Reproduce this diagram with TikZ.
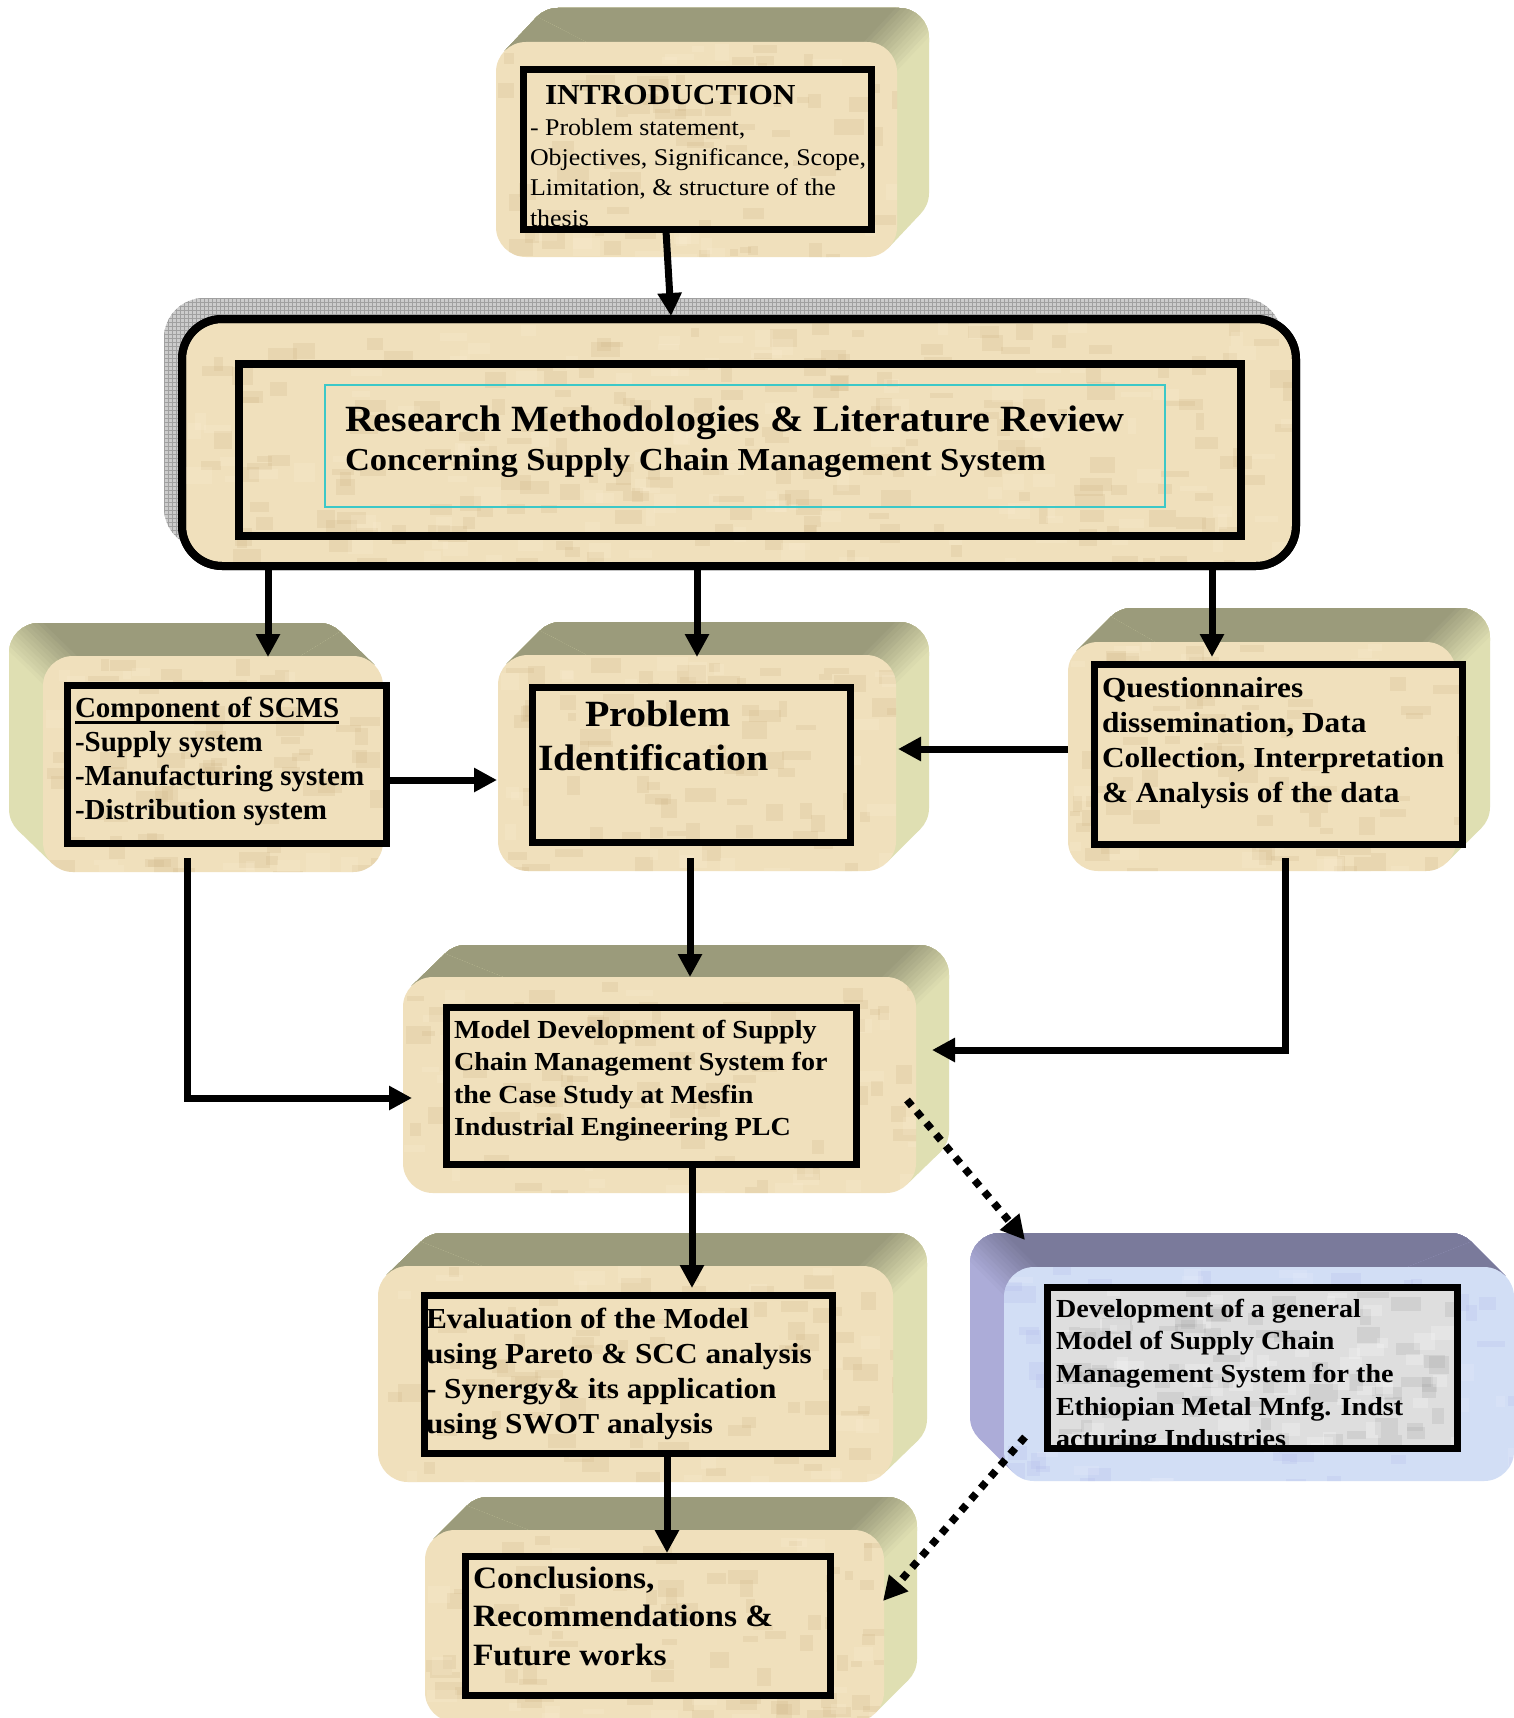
\documentclass[tikz,border=0pt]{standalone}
\usepackage{fontspec}
\setmainfont{Liberation Serif}[FakeStretch=1.08]
\newfontfamily\tnr{Liberation Serif}
\usetikzlibrary{arrows.meta}
\definecolor{tanTop}{RGB}{155,155,123}
\definecolor{tanSide}{RGB}{223,223,178}
\definecolor{tanFace}{RGB}{240,224,188}
\definecolor{tanDark}{RGB}{205,180,135}
\definecolor{tanLight}{RGB}{252,240,212}
\definecolor{blueTop}{RGB}{122,122,155}
\definecolor{blueSide}{RGB}{172,172,216}
\definecolor{blueFace}{RGB}{210,222,245}
\definecolor{blueDark}{RGB}{175,185,235}
\definecolor{blueLight}{RGB}{235,240,252}
\definecolor{marble}{RGB}{222,222,222}
\definecolor{marbleDark}{RGB}{160,160,160}
\definecolor{cyanline}{RGB}{60,200,200}
\definecolor{gridfill}{RGB}{204,204,204}
\definecolor{gridline}{RGB}{160,160,160}
\newcommand\boxtext[1]{\begin{tabular}[t]{@{}l@{}}#1\end{tabular}}
\newcommand\myul[1]{\setbox0=\hbox{#1}\rlap{\rule[-6.5pt]{\wd0}{2.2pt}}\box0}
\newcommand\mottle[7]{% x1 y1 x2 y2 colour count radius
  \begin{scope}
    \clip[rounded corners=#7] (#1,#2) rectangle (#3,#4);
    \foreach \mi in {1,...,#6}{%
      \pgfmathsetmacro\mx{#1+rnd*(#3-#1)}%
      \pgfmathsetmacro\my{#2+rnd*(#4-#2)}%
      \pgfmathsetmacro\mw{8+rnd*24}%
      \pgfmathsetmacro\mh{5+rnd*14}%
      \fill[#5, opacity=0.22] (\mx,\my) rectangle ++(\mw,\mh);
    }%
  \end{scope}
}
\newcommand\slabfill[1]{%
  \fill[#1Side] ({\scx-2000},{\scy-2000}) rectangle ({\scx+2000},{\scy+2000});
  \foreach \si in {0,...,12}{%
    \pgfmathsetmacro\slt{24-4*\si}%
    \pgfmathtruncatemacro\slmix{round(100*\si/12)}%
    \pgfmathsetmacro\sPx{\scx+(\slt)*(\snx)+700*(\sux)}%
    \pgfmathsetmacro\sPy{\scy+(\slt)*(\sny)+700*(\suy)}%
    \pgfmathsetmacro\sQx{\scx+(\slt)*(\snx)-700*(\sux)}%
    \pgfmathsetmacro\sQy{\scy+(\slt)*(\sny)-700*(\suy)}%
    \pgfmathsetmacro\sRx{\sQx-1200*(\snx)}%
    \pgfmathsetmacro\sRy{\sQy-1200*(\sny)}%
    \pgfmathsetmacro\sSx{\sPx-1200*(\snx)}%
    \pgfmathsetmacro\sSy{\sPy-1200*(\sny)}%
    \fill[#1Top!\slmix!#1Side] (\sPx,\sPy) -- (\sQx,\sQy) -- (\sRx,\sRy) -- (\sSx,\sSy) -- cycle;
  }%
}
\newcommand\slab[7]{%
  \pgfmathsetmacro\sxa{#1}%
  \pgfmathsetmacro\sya{#2}%
  \pgfmathsetmacro\sxb{#3}%
  \pgfmathsetmacro\syb{#4}%
  \pgfmathsetmacro\sdx{#5}%
  \pgfmathsetmacro\sdy{#6}%
  \pgfmathsetmacro\slen{veclen(\sdx,\sdy)}%
  \pgfmathsetmacro\sux{\sdx/\slen}%
  \pgfmathsetmacro\suy{\sdy/\slen}%
  \pgfmathsetmacro\sbxa{\sxa+(\sdx)}%
  \pgfmathsetmacro\sbya{\sya+(\sdy)}%
  \pgfmathsetmacro\sbxb{\sxb+(\sdx)}%
  \pgfmathsetmacro\sbyb{\syb+(\sdy)}%
  \ifdim\sdx pt>0pt
    \pgfmathsetmacro\snx{-(\suy)}\pgfmathsetmacro\sny{\sux}%
    \pgfmathsetmacro\scx{\sxb-8.8}\pgfmathsetmacro\scy{\sya+8.8}%
    \pgfmathsetmacro\sAx{\sxa+8.8}\pgfmathsetmacro\sAy{\sya+8.8}%
    \pgfmathsetmacro\sDx{\sxb-8.8}\pgfmathsetmacro\sDy{\syb-8.8}%
  \else
    \pgfmathsetmacro\snx{\suy}\pgfmathsetmacro\sny{-(\sux)}%
    \pgfmathsetmacro\scx{\sxa+8.8}\pgfmathsetmacro\scy{\sya+8.8}%
    \pgfmathsetmacro\sAx{\sxb-8.8}\pgfmathsetmacro\sAy{\sya+8.8}%
    \pgfmathsetmacro\sDx{\sxa+8.8}\pgfmathsetmacro\sDy{\syb-8.8}%
  \fi
  \pgfmathsetmacro\sBx{\sAx+(\sdx)}\pgfmathsetmacro\sBy{\sAy+(\sdy)}%
  \pgfmathsetmacro\sCx{\sDx+(\sdx)}\pgfmathsetmacro\sCy{\sDy+(\sdy)}%
  \begin{scope}
    \clip[rounded corners=30pt] (\sbxa,\sbya) rectangle (\sbxb,\sbyb);
    \slabfill{#7}
  \end{scope}
  \begin{scope}
    \clip (\sAx,\sAy) -- (\sBx,\sBy) -- (\sCx,\sCy) -- (\sDx,\sDy) -- cycle;
    \slabfill{#7}
  \end{scope}
  \fill[#7Face, rounded corners=30pt] (\sxa,\sya) rectangle (\sxb,\syb);
  \mottle{#1}{#2}{#3}{#4}{#7Dark}{70}{30pt}
  \mottle{#1}{#2}{#3}{#4}{#7Light}{50}{30pt}
}
\newcommand\innerbox[6]{%
  \node[fill=#6, inner sep=0pt, outer sep=0pt, minimum width={#4-#2}, minimum height={#5-#3}] (#1) at ({(#2+#4)/2},{(#3+#5)/2}) {};
}
\tikzset{
  frame/.style={draw=black, line width=7pt},
  conn/.style={line width=7pt, -{Triangle[length=23pt,width=23pt]}},
  dotconn/.style={line width=7.5pt, dash pattern=on 7.5pt off 7.5pt, -{Triangle[length=24pt,width=24pt]}},
  txt/.style={anchor=base west, inner sep=0pt, outer sep=0pt},
}
\begin{document}
\begin{tikzpicture}[x=1pt,y={(0pt,-1pt)}]
\pgfmathsetseed{7}
\useasboundingbox (0,0) rectangle (1514,1718);
\fill[white] (0,0) rectangle (1514,1718);

% ---------- Introduction ----------
\slab{496}{42}{897}{257}{32}{-34}{tan}
\innerbox{intro}{523}{70}{871}{229}{tanFace}
\mottle{523}{70}{871}{229}{tanDark}{40}{0pt}
\begin{scope}
  \clip (intro.north west) rectangle (intro.south east);
  \node[txt, font=\fontsize{29}{30}\selectfont\bfseries] (introT) at (545,105) {INTRODUCTION};
  \node[txt, font=\fontsize{24}{30.3}\selectfont] (introB) at (530,135.3) {\boxtext{- Problem statement,\\Objectives, Significance, Scope,\\Limitation, \& structure of the\\thesis}};
\end{scope}
\draw[frame] (intro.north west) rectangle (intro.south east);

% ---------- Research methodologies ----------
\fill[gridfill, rounded corners=40pt] (164,298) rectangle (1282,548);
\begin{scope}
  \clip[rounded corners=40pt] (164,298) rectangle (1282,548);
  \foreach \gx in {164,168,...,1284} \draw[gridline, line width=0.6pt] (\gx,296) -- (\gx,550);
  \foreach \gy in {298,302,...,550} \draw[gridline, line width=0.6pt] (162,\gy) -- (1284,\gy);
\end{scope}
\node[draw=black, line width=8pt, fill=tanFace, rounded corners=40pt, inner sep=0pt, outer sep=0pt, minimum width=1114, minimum height=247] (resOuter) at (739,442.5) {};
\mottle{182}{319}{1296}{566}{tanDark}{200}{40pt}
\mottle{182}{319}{1296}{566}{tanLight}{120}{40pt}
\draw[black, line width=8pt, rounded corners=40pt] (resOuter.north west) rectangle (resOuter.south east);
\node[inner sep=0pt, outer sep=0pt, minimum width=1002, minimum height=172] (research) at (740,450) {};
\draw[cyanline, line width=1.5pt] (325,385) rectangle (1165,507);
\node[txt, font=\fontsize{37}{39}\selectfont\bfseries] (resT1) at (345,431) {Research Methodologies \& Literature Review};
\node[txt, font=\fontsize{32}{39}\selectfont\bfseries] (resT2) at (345,470) {Concerning Supply Chain Management System};
\draw[black, line width=8pt] (research.north west) rectangle (research.south east);

% ---------- Component of SCMS ----------
\slab{43}{656}{383}{872}{-34}{-33}{tan}
\innerbox{scms}{67}{685}{386}{843}{tanFace}
\mottle{67}{685}{386}{843}{tanDark}{40}{0pt}
\node[txt, font=\tnr\fontsize{29}{34.3}\selectfont\bfseries] (scmsT) at (75,717) {\boxtext{\myul{Component of SCMS}\\-Supply system\\-Manufacturing system\\-Distribution system}};
\draw[frame] (scms.north west) rectangle (scms.south east);

% ---------- Problem identification ----------
\slab{498}{655}{896}{871}{33}{-33}{tan}
\innerbox{problem}{532}{687}{850}{842}{tanFace}
\mottle{532}{687}{850}{842}{tanDark}{40}{0pt}
\node[txt, font=\fontsize{37}{44}\selectfont\bfseries] (probT1) at (585,726) {Problem};
\node[txt, font=\fontsize{37}{44}\selectfont\bfseries] (probT2) at (538,770) {Identification};
\draw[frame] (problem.north west) rectangle (problem.south east);

% ---------- Questionnaires ----------
\slab{1068}{642}{1456}{871}{34}{-34}{tan}
\innerbox{quest}{1094}{664}{1462}{844}{tanFace}
\mottle{1094}{664}{1462}{844}{tanDark}{40}{0pt}
\node[txt, font=\fontsize{29}{35}\selectfont\bfseries] (questT) at (1102,697) {\boxtext{Questionnaires\\dissemination, Data\\Collection, Interpretation\\\& Analysis of the data}};
\draw[frame] (quest.north west) rectangle (quest.south east);

% ---------- Model development ----------
\slab{403}{977}{916}{1193}{33}{-32}{tan}
\innerbox{model}{446}{1007}{856}{1164}{tanFace}
\mottle{446}{1007}{856}{1164}{tanDark}{40}{0pt}
\node[txt, font=\fontsize{26}{32.5}\selectfont\bfseries] (modelT) at (454,1038) {\boxtext{Model Development of Supply\\Chain Management System for\\the Case Study at Mesfin\\Industrial Engineering PLC}};
\draw[frame] (model.north west) rectangle (model.south east);

% ---------- Evaluation ----------
\slab{378}{1266}{893}{1482}{34}{-33}{tan}
\innerbox{eval}{424}{1295}{832}{1453}{tanFace}
\mottle{424}{1295}{832}{1453}{tanDark}{40}{0pt}
\begin{scope}
  \clip (eval.north west) rectangle (eval.south east);
  \node[txt, font=\fontsize{29}{35}\selectfont\bfseries] (evalT) at (426,1328) {\boxtext{Evaluation of the Model\\using Pareto \& SCC analysis\\- Synergy\& its application\\using SWOT analysis}};
\end{scope}
\draw[frame] (eval.north west) rectangle (eval.south east);

% ---------- General model (blue) ----------
\slab{1004}{1267}{1514}{1481}{-34}{-34}{blue}
\innerbox{dev}{1047}{1287}{1457}{1448}{marble}
\mottle{1047}{1287}{1457}{1448}{marbleDark}{70}{0pt}
\mottle{1047}{1287}{1457}{1448}{white}{50}{0pt}
\begin{scope}
  \clip (dev.north west) rectangle (dev.south east);
  \node[txt, font=\fontsize{26}{32.7}\selectfont\bfseries] (devT) at (1056,1317) {\boxtext{Development of a general\\Model of Supply Chain\\Management System for the\\Ethiopian Metal Mnfg. Indst\\acturing Industries}};
\end{scope}
\draw[frame] (dev.north west) rectangle (dev.south east);

% ---------- Conclusions ----------
\slab{425}{1530}{884}{1722}{33}{-33}{tan}
\innerbox{concl}{465}{1556}{830}{1695}{tanFace}
\mottle{465}{1556}{830}{1695}{tanDark}{40}{0pt}
\node[txt, font=\fontsize{31}{38.5}\selectfont\bfseries] (conclT) at (473,1588) {\boxtext{Conclusions,\\Recommendations \&\\Future works}};
\draw[frame] (concl.north west) rectangle (concl.south east);

% ---------- Connectors ----------
\coordinate (pA1) at (666,231);  \coordinate (pA2) at (671,316);
\coordinate (pB1) at (268,566);  \coordinate (pB2) at (268,657);
\coordinate (pC1) at (697,566);  \coordinate (pC2) at (697,657);
\coordinate (pD1) at (1212,566); \coordinate (pD2) at (1212,657);
\coordinate (pE1) at (386,780);  \coordinate (pE2) at (497,780);
\coordinate (pF1) at (1068,749); \coordinate (pF2) at (898,749);
\coordinate (pG1) at (690,858);  \coordinate (pG2) at (690,977);
\coordinate (pH1) at (187,858);  \coordinate (pH2) at (412,1098);
\coordinate (pI1) at (1285,858); \coordinate (pI2) at (932,1050);
\coordinate (pJ1) at (907,1100); \coordinate (pJ2) at (1025,1240);
\coordinate (pK1) at (692,1168); \coordinate (pK2) at (692,1288);
\coordinate (pL1) at (667,1457); \coordinate (pL2) at (667,1553);
\coordinate (pM1) at (1025,1437); \coordinate (pM2) at (883,1601);

\draw[conn] (pA1) -- (pA2);
\draw[conn] (pB1) -- (pB2);
\draw[conn] (pC1) -- (pC2);
\draw[conn] (pD1) -- (pD2);
\draw[conn] (pE1) -- (pE2);
\draw[conn] (pF1) -- (pF2);
\draw[conn] (pG1) -- (pG2);
\draw[conn] (pH1) |- (pH2);
\draw[conn] (pI1) |- (pI2);
\draw[dotconn] (pJ1) -- (pJ2);
\draw[conn] (pK1) -- (pK2);
\draw[conn] (pL1) -- (pL2);
\draw[dotconn] (pM1) -- (pM2);
\end{tikzpicture}
\end{document}
